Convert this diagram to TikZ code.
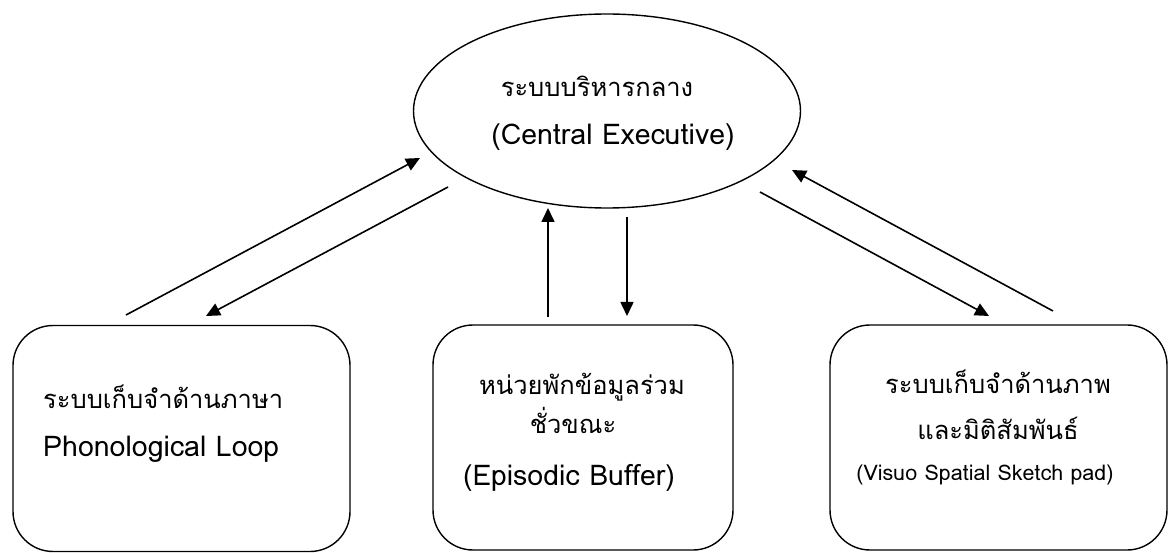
\documentclass[tikz,border=0pt]{standalone}
\usepackage{fontspec}
\setmainfont[Script=Thai]{Loma}
\usetikzlibrary{shapes.geometric,arrows.meta}
\tikzset{
  box/.style={draw,line width=1.4pt,rounded corners=40pt,inner sep=0pt},
  conn/.style={line width=1.6pt,-{Triangle[length=14pt,width=13pt]}},
  thai/.style={inner sep=0pt,anchor=base,font=\fontsize{25.5}{30}\selectfont},
  txt/.style={inner sep=0pt,anchor=base,font=\fontsize{28.5}{34}\selectfont},
  small/.style={inner sep=0pt,anchor=base,font=\fontsize{21.5}{25}\selectfont}
}
\begin{document}
\begin{tikzpicture}[x=1pt,y=-1pt]
\useasboundingbox (0,0) rectangle (1168,553);
% ellipse
\node[draw,line width=1.4pt,ellipse,minimum width=387pt,minimum height=194pt,inner sep=0pt] (ce) at (607,111) {};
% boxes
\node[box,minimum width=337pt,minimum height=226pt] (pl) at (181.5,438.5) {};
\node[box,minimum width=300pt,minimum height=225pt] (eb) at (583,437.5) {};
\node[box,minimum width=337pt,minimum height=225pt] (vs) at (998.5,437.5) {};
% texts
\node[thai] (t1) at (597,97) {ระบบบริหารกลาง};
\node[txt] (t2) at (613,145) {(Central Executive)};
\node[thai,anchor=base west] (t3) at (43,409) {ระบบเก็บจำด้านภาษา};
\node[txt,anchor=base west] (t4) at (43,456) {Phonological Loop};
\node[thai] (t5) at (582,395) {หน่วยพักข้อมูลร่วม};
\node[thai] (t6) at (573,433) {ชั่วขณะ};
\node[txt] (t7) at (569,485) {(Episodic Buffer)};
\node[thai] (t8) at (998,393) {ระบบเก็บจำด้านภาพ};
\node[thai] (t9) at (998,439) {และมิติสัมพันธ์};
\node[small] (t10) at (985,480) {(Visuo Spatial Sketch pad)};
% connector end points
\coordinate (a1s) at (126,315); \coordinate (a1e) at (420,158);
\coordinate (a2s) at (448,187); \coordinate (a2e) at (206,316);
\coordinate (a3s) at (548,317); \coordinate (a3e) at (548,208);
\coordinate (a4s) at (627,217); \coordinate (a4e) at (627,316);
\coordinate (a5s) at (760,192); \coordinate (a5e) at (989,316);
\coordinate (a6s) at (1053,311); \coordinate (a6e) at (792,170);
\draw[conn] (a1s) -- (a1e);
\draw[conn] (a2s) -- (a2e);
\draw[conn] (a3s) -- (a3e);
\draw[conn] (a4s) -- (a4e);
\draw[conn] (a5s) -- (a5e);
\draw[conn] (a6s) -- (a6e);
\end{tikzpicture}
\end{document}
